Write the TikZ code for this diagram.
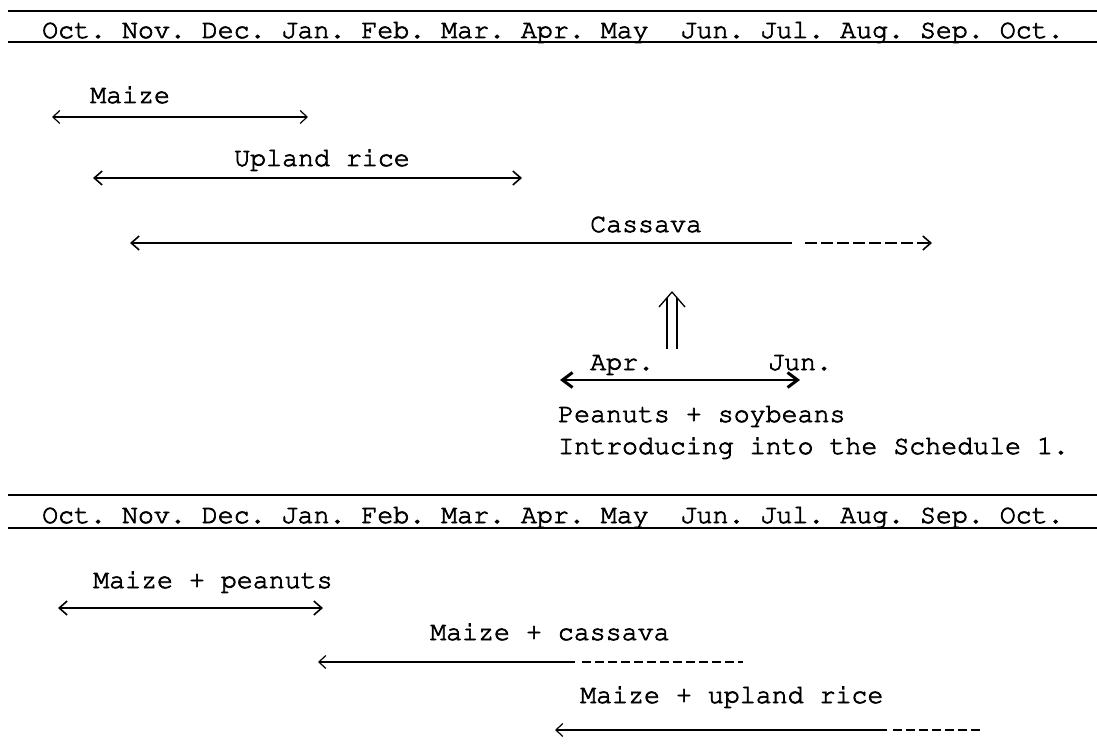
\documentclass[tikz,border=0pt]{standalone}
\usepackage[T1]{fontenc}
\usepackage{courier}
\renewcommand{\familydefault}{\ttdefault}
\usetikzlibrary{arrows.meta}
\newcommand{\heavytext}{\special{pdf:literal direct 2 Tr 0.7 w}}
\newcommand{\plaintext}{\special{pdf:literal direct 0 Tr}}
\tikzset{
  lbl/.style={anchor=base west, inner sep=0pt,
    font=\fontsize{26.6}{30}\selectfont\frenchspacing,
    execute at begin node=\heavytext, execute at end node=\plaintext},
  rulebar/.style={line width=1.8pt},
  thinbarb/.tip={Straight Barb[length=7pt,width=13pt,line width=1.2pt]},
  midbarb/.tip={Straight Barb[length=8pt,width=14pt,line width=1.6pt]},
  boldbarb/.tip={Straight Barb[length=10pt,width=15pt,line width=3pt]},
  thinline/.style={line width=1.2pt},
  midline/.style={line width=1.9pt},
  boldline/.style={line width=2.8pt},
  dashseg/.style={dash pattern=on 12pt off 4pt},
  dashfine/.style={dash pattern=on 9pt off 4pt},
}
\begin{document}
\begin{tikzpicture}[x=1pt,y=-1pt]
\useasboundingbox (0,0) rectangle (1097,746);
\fill[white] (0,0) rectangle (1097,746);

% ---------- header 1
\coordinate (h1a) at (8,11);  \coordinate (h1b) at (1097,11);
\coordinate (h1c) at (8,42);  \coordinate (h1d) at (1097,42);
\draw[rulebar] (h1a) -- (h1b);
\draw[rulebar] (h1c) -- (h1d);
\node[lbl] (hdr1) at (42,38) {Oct. Nov. Dec. Jan. Feb. Mar. Apr. May\ \ Jun. Jul. Aug. Sep. Oct.};

% ---------- schedule 1
\node[lbl] (maize) at (90,103) {Maize};
\coordinate (mzL) at (52,117); \coordinate (mzR) at (308,117);
\draw[thinline, thinbarb-thinbarb] (mzL) -- (mzR);

\node[lbl] (upland) at (234,166) {Upland rice};
\coordinate (upL) at (93,178); \coordinate (upR) at (522,178);
\draw[midline, midbarb-midbarb] (upL) -- (upR);

\node[lbl] (cassava) at (590,232) {Cassava};
\coordinate (caL) at (130,243); \coordinate (caM) at (792,243);
\coordinate (caD) at (805,243); \coordinate (caR) at (932,243);
\draw[midline, midbarb-] (caL) -- (caM);
\draw[midline, dashseg, -midbarb] (caD) -- (caR);

% double arrow
\coordinate (dbL1) at (667,349); \coordinate (dbL2) at (667,298);
\coordinate (dbR1) at (677,349); \coordinate (dbR2) at (677,298);
\coordinate (dbHL) at (659,307); \coordinate (dbTip) at (672,292); \coordinate (dbHR) at (685,307);
\draw[line width=1.3pt] (dbL1) -- (dbL2);
\draw[line width=1.3pt] (dbR1) -- (dbR2);
\draw[line width=1.3pt, line join=miter] (dbHL) -- (dbTip) -- (dbHR);

\node[lbl] (apr) at (590,370) {Apr.};
\node[lbl] (jun) at (768,370) {Jun.};
\coordinate (ajL) at (560,380); \coordinate (ajR) at (800,380);
\draw[boldline, boldbarb-boldbarb] (ajL) -- (ajR);

\node[lbl] (peanuts) at (558,422) {Peanuts + soybeans};
\node[lbl] (intro) at (558,454) {Introducing into the Schedule 1.};

% ---------- header 2
\coordinate (h2a) at (8,495);  \coordinate (h2b) at (1097,495);
\coordinate (h2c) at (8,528);  \coordinate (h2d) at (1097,528);
\draw[rulebar] (h2a) -- (h2b);
\draw[rulebar] (h2c) -- (h2d);
\node[lbl] (hdr2) at (42,523) {Oct. Nov. Dec. Jan. Feb. Mar. Apr. May\ \ Jun. Jul. Aug. Sep. Oct.};

% ---------- schedule 2
\node[lbl] (mp) at (93,588) {Maize + peanuts};
\coordinate (mpL) at (58,608); \coordinate (mpR) at (323,608);
\draw[line width=1.5pt, midbarb-midbarb] (mpL) -- (mpR);

\node[lbl] (mc) at (430,640) {Maize + cassava};
\coordinate (mcL) at (318,662); \coordinate (mcM) at (575,662);
\coordinate (mcD) at (582,662); \coordinate (mcR) at (743,662);
\draw[line width=1.5pt, thinbarb-] (mcL) -- (mcM);
\draw[line width=1.5pt, dashfine] (mcD) -- (mcR);

\node[lbl] (mu) at (580,703) {Maize + upland rice};
\coordinate (muL) at (555,730); \coordinate (muM) at (887,730);
\coordinate (muD) at (893,730); \coordinate (muR) at (980,730);
\draw[line width=1.5pt, thinbarb-] (muL) -- (muM);
\draw[line width=1.5pt, dashfine] (muD) -- (muR);
\end{tikzpicture}
\end{document}
